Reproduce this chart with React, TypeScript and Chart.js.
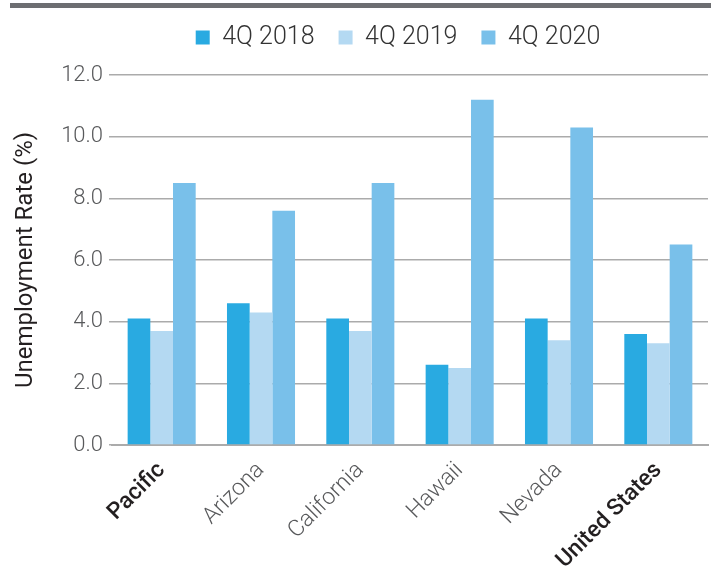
import React, { useEffect, useRef } from "react";
import { Chart, registerables } from "chart.js";

Chart.register(...registerables);

const categories = ["Pacific", "Arizona", "California", "Hawaii", "Nevada", "United States"];
const emphasized = [true, false, false, false, false, true];
const q2018 = [4.1, 4.6, 4.1, 2.6, 4.1, 3.6];
const q2019 = [3.7, 4.3, 3.7, 2.5, 3.4, 3.3];
const q2020 = [8.5, 7.6, 8.5, 11.2, 10.3, 6.5];
const seriesNames = ["4Q 2018", "4Q 2019", "4Q 2020"];
const seriesColors = ["#29aae1", "#b4d9f2", "#79c0ea"];
const yTitle = "Unemployment Rate (%)";

const FONT = "Roboto, 'Liberation Sans', sans-serif";

const topRule = {
  id: "topRule",
  beforeDraw(chart: any) {
    const ctx = chart.ctx;
    ctx.save();
    ctx.fillStyle = "#6d6e71";
    ctx.fillRect(10, 3, chart.width - 10, 5);
    ctx.restore();
  },
};

const shiftLegend = {
  id: "shiftLegend",
  afterLayout(chart: any) {
    const l = chart.legend;
    if (!l) return;
    const shift = 398 - (l.left + l.right) / 2;
    l.left += shift;
    l.right += shift;
    l.top -= 15;
    l.bottom -= 15;
  },
};

export default function App() {
  const ref = useRef<HTMLCanvasElement>(null);
  useEffect(() => {
    document.body.style.margin = "0";
    const chart = new Chart(ref.current!, {
      type: "bar",
      data: {
        labels: categories,
        datasets: [q2018, q2019, q2020].map((d, i) => ({
          label: seriesNames[i],
          data: d,
          backgroundColor: seriesColors[i],
          borderWidth: 0,
          categoryPercentage: 0.685,
          barPercentage: 1,
        })),
      },
      options: {
        animation: false,
        responsive: false,
        maintainAspectRatio: false,
        layout: { padding: { top: 16, right: 3, left: 0, bottom: 0 } },
        plugins: {
          tooltip: { enabled: false },
          legend: {
            position: "top",
            labels: {
              boxWidth: 14,
              boxHeight: 14,
              padding: 24,
              color: "#333333",
              font: { family: FONT, size: 25, weight: "300" },
            },
          },
        },
        scales: {
          x: {
            grid: { display: false },
            border: { display: true, color: "#ababab", width: 2 },
            ticks: {
              minRotation: 45,
              maxRotation: 45,
              padding: 4,
              color: categories.map((_, i) => (emphasized[i] ? "#231f20" : "#58595b")),
              font: (ctx: any) => ({
                family: FONT,
                size: 23,
                weight: emphasized[ctx.index] ? "500" : "300",
              }),
            },
            afterFit(scale: any) {
              scale.height = 126;
            },
          },
          y: {
            min: 0,
            max: 12,
            ticks: {
              stepSize: 2,
              padding: 6,
              color: "#58595b",
              font: { family: FONT, size: 22, weight: "300" },
              callback: (v: any) => Number(v).toFixed(1),
            },
            grid: { color: "#ababab", lineWidth: 1.5, tickLength: 3 },
            border: { display: false },
            title: {
              display: true,
              text: yTitle,
              color: "#231f20",
              font: { family: FONT, size: 24, weight: "400" },
              padding: { top: 12, bottom: 6 },
            },
            afterFit(scale: any) {
              scale.width = 112;
            },
          },
        },
      },
      plugins: [topRule, shiftLegend],
    });
    return () => chart.destroy();
  }, []);
  return <canvas ref={ref} width={711} height={571} style={{ display: "block" }} />;
}
